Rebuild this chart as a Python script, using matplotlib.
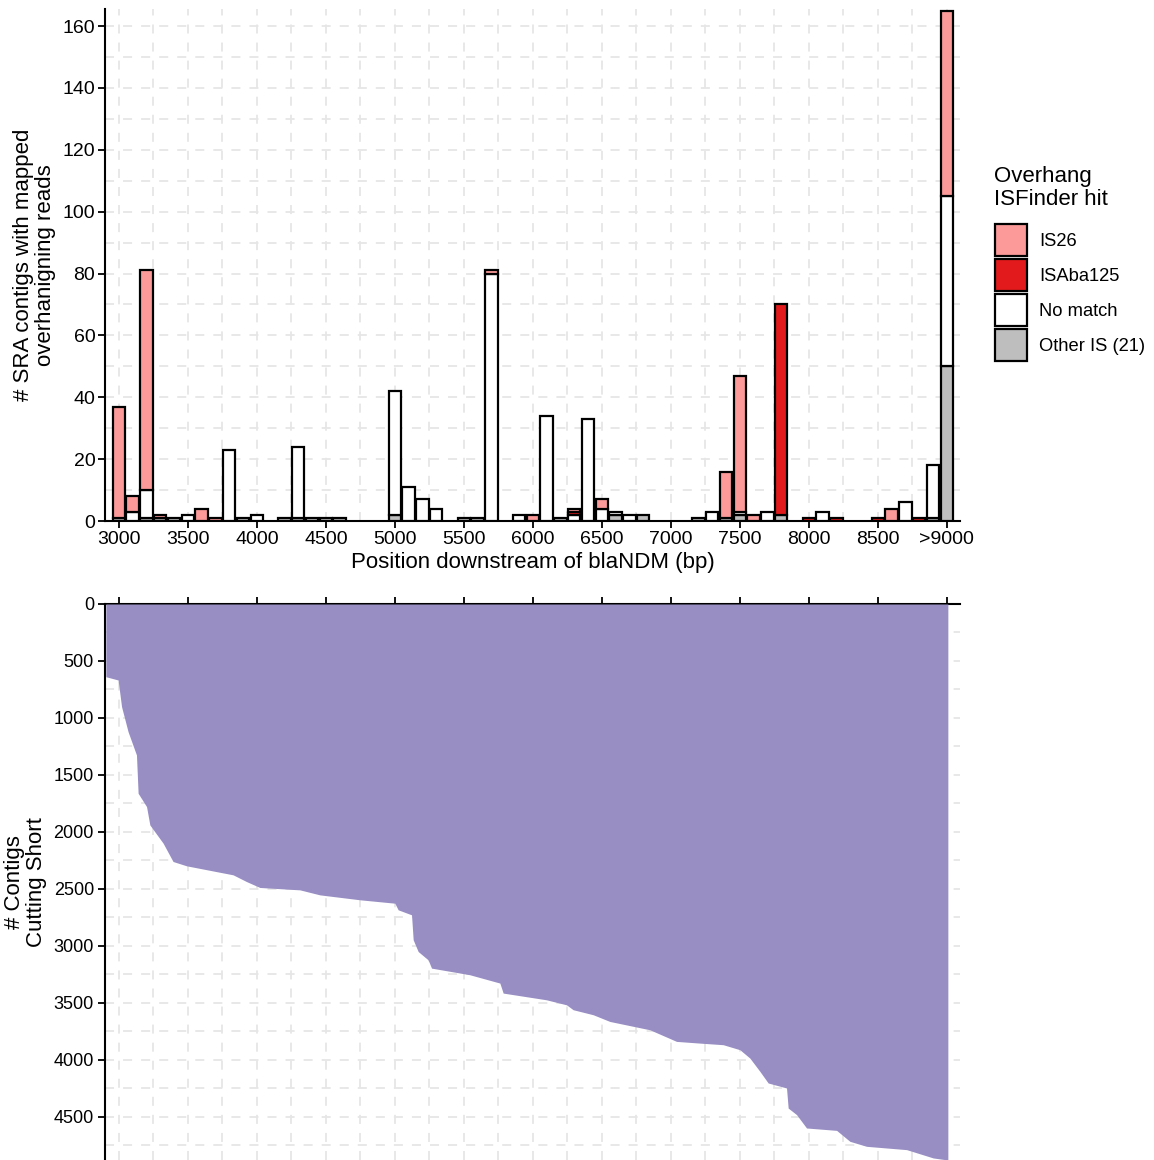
import matplotlib.pyplot as plt
from matplotlib.patches import Patch
from matplotlib.ticker import MultipleLocator
import numpy as np

plt.rcParams['font.family'] = ['Liberation Sans', 'DejaVu Sans']

# Bins of 100 bp downstream of blaNDM, last bin is ">9000"
positions = np.arange(3000, 9001, 100)
tick_pos = [3000, 3500, 4000, 4500, 5000, 5500, 6000, 6500, 7000, 7500, 8000, 8500, 9000]
tick_labels = ['3000', '3500', '4000', '4500', '5000', '5500', '6000', '6500',
               '7000', '7500', '8000', '8500', '>9000']

# counts per bin (3000, 3100, ..., 9000)
other_is = [1, 0, 1, 1, 1, 0, 0, 0, 0, 1, 0, 0, 1, 1, 1, 1, 1, 0, 0, 0,
            2, 0, 0, 0, 0, 1, 1, 0, 0, 0, 0, 0, 1, 0, 0, 0, 2, 0, 2, 0,
            0, 0, 1, 0, 1, 2, 0, 0, 2, 0, 0, 0, 0, 0, 0, 0, 0, 0, 0, 1, 50]
no_match = [0, 3, 9, 0, 0, 2, 0, 0, 23, 0, 2, 0, 0, 23, 0, 0, 0, 0, 0, 0,
            40, 11, 7, 4, 0, 0, 0, 80, 0, 2, 0, 34, 0, 2, 33, 4, 1, 2, 0, 0,
            0, 0, 0, 3, 0, 1, 0, 3, 0, 0, 0, 3, 0, 0, 0, 0, 0, 6, 0, 17, 55]
isaba125 = [0, 0, 0, 0, 0, 0, 0, 0, 0, 0, 0, 0, 0, 0, 0, 0, 0, 0, 0, 0,
            0, 0, 0, 0, 0, 0, 0, 0, 0, 0, 0, 0, 0, 1, 0, 0, 0, 0, 0, 0,
            0, 0, 0, 0, 0, 0, 0, 0, 68, 0, 1, 0, 1, 0, 0, 1, 0, 0, 1, 0, 0]
is26 = [36, 5, 71, 1, 0, 0, 4, 1, 0, 0, 0, 0, 0, 0, 0, 0, 0, 0, 0, 0,
        0, 0, 0, 0, 0, 0, 0, 1, 0, 0, 2, 0, 0, 1, 0, 3, 0, 0, 0, 0,
        0, 0, 0, 0, 15, 44, 2, 0, 0, 0, 0, 0, 0, 0, 0, 0, 4, 0, 0, 0, 60]

# cumulative number of contigs cutting short along the position axis
short_pos = [2906, 2995, 3020, 3067, 3128, 3140, 3201, 3225, 3321, 3393, 3491,
             3828, 3925, 4022, 4312, 4457, 4746, 5000, 5024, 5121, 5133, 5169,
             5241, 5266, 5543, 5761, 5785, 6099, 6244, 6292, 6437, 6558, 6848,
             7041, 7210, 7379, 7500, 7572, 7645, 7705, 7838, 7850, 7911, 7983,
             8201, 8297, 8418, 8708, 8901, 9007]
short_count = [638, 667, 901, 1120, 1325, 1661, 1778, 1939, 2099, 2260, 2298,
               2377, 2436, 2488, 2509, 2553, 2596, 2626, 2684, 2728, 2947, 3050,
               3123, 3196, 3254, 3327, 3415, 3474, 3518, 3561, 3605, 3664, 3737,
               3839, 3854, 3868, 3912, 3985, 4102, 4204, 4248, 4424, 4482, 4599,
               4620, 4716, 4760, 4789, 4862, 4880]

colors = {'IS26': '#FB9A99', 'ISAba125': '#E31A1C',
          'No match': '#FFFFFF', 'Other IS (21)': '#BEBEBE'}

fig = plt.figure(figsize=(11.54, 11.60), dpi=100)
ax1 = fig.add_axes([105 / 1154, 1 - 521 / 1160, 855 / 1154, 512 / 1160])
ax2 = fig.add_axes([105 / 1154, 0, 855 / 1154, 556 / 1160])

grid_kw = dict(color='#E6E6E6', linestyle=(0, (5, 5)), linewidth=1.3)

# --- stacked bars ---
bottom = np.zeros(len(positions))
for vals, name in [(other_is, 'Other IS (21)'), (no_match, 'No match'),
                   (isaba125, 'ISAba125'), (is26, 'IS26')]:
    vals = np.array(vals)
    mask = vals > 0
    ax1.bar(positions[mask], vals[mask], width=90, bottom=bottom[mask],
            color=colors[name], edgecolor='black', linewidth=1.6, zorder=3)
    bottom += vals

ax1.set_xlim(2900, 9095)
ax1.set_ylim(0, 165.5)
ax1.set_xticks(tick_pos)
ax1.set_xticklabels(tick_labels)
ax1.xaxis.set_minor_locator(MultipleLocator(250))
ax1.set_yticks(range(0, 161, 20))
ax1.yaxis.set_minor_locator(MultipleLocator(10))
ax1.grid(which='both', **grid_kw)
ax1.set_axisbelow(True)
for s in ['top', 'right']:
    ax1.spines[s].set_visible(False)
for s in ['left', 'bottom']:
    ax1.spines[s].set_linewidth(1.5)
ax1.tick_params(which='major', length=5, width=1.3, labelsize=14, pad=2)
ax1.tick_params(which='minor', length=0)
ax1.set_xlabel('Position downstream of blaNDM (bp)', fontsize=16, labelpad=3)
ax1.set_ylabel('# SRA contigs with mapped\noverhanigning reads', fontsize=16,
               linespacing=1.05, labelpad=5)

# legend: title as plain text, keys below it
fig.text(994 / 1154, 1 - 166 / 1160, 'Overhang\nISFinder hit', fontsize=16,
         ha='left', va='top', linespacing=1.1)
handles = [Patch(facecolor=colors[k], edgecolor='black', linewidth=1.6, label=k)
           for k in ['IS26', 'ISAba125', 'No match', 'Other IS (21)']]
fig.legend(handles=handles, loc='upper left',
           bbox_to_anchor=(995 / 1154, 1 - 224 / 1160),
           frameon=False, fontsize=13.2, borderpad=0, borderaxespad=0,
           handlelength=1.75, handleheight=2.3, labelspacing=0.17,
           handletextpad=0.65)

# --- contigs cutting short ---
ax2.fill_between(short_pos, 0, short_count, color='#988EC3', linewidth=0, zorder=3)
ax2.set_xlim(2900, 9095)
ax2.set_ylim(4880, 0)
ax2.xaxis.tick_top()
ax2.set_xticks(tick_pos)
ax2.set_xticklabels([])
ax2.xaxis.set_minor_locator(MultipleLocator(250))
ax2.set_yticks(range(0, 4501, 500))
ax2.yaxis.set_minor_locator(MultipleLocator(250))
ax2.grid(which='both', **grid_kw)
ax2.set_axisbelow(True)
for s in ['bottom', 'right']:
    ax2.spines[s].set_visible(False)
for s in ['left', 'top']:
    ax2.spines[s].set_linewidth(1.5)
ax2.tick_params(which='major', length=5, width=1.3, labelsize=13, pad=3)
ax2.tick_params(which='minor', length=0)
ax2.set_ylabel('# Contigs\nCutting Short', fontsize=16, linespacing=1.05,
               labelpad=5)

fig.savefig('out.png', dpi=100)
